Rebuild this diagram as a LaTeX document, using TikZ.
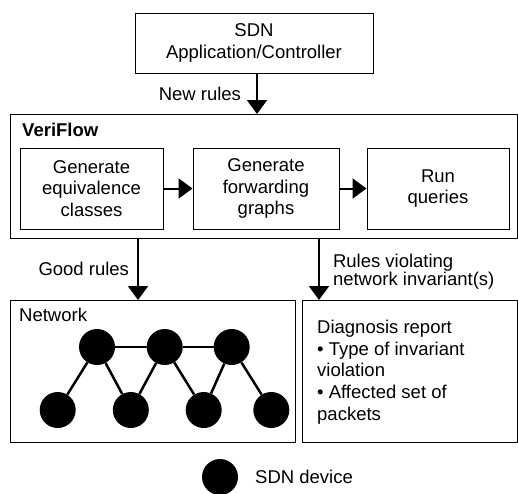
\documentclass[tikz,border=0pt]{standalone}
\usepackage{fontspec}
\setmainfont{Liberation Sans}
\usetikzlibrary{arrows.meta}

\tikzset{
  box/.style={draw, line width=1pt, align=center, inner sep=0pt},
  flow/.style={line width=2pt, -{Triangle[length=14pt,width=20pt]}},
  lbl/.style={inner sep=0pt},
  device/.style={circle, fill=black, minimum size=36pt, inner sep=0pt},
  link/.style={line width=2.5pt},
}

\begin{document}
\fontsize{18.5}{21.7}\selectfont
\begin{tikzpicture}[x=1pt,y=-1pt]
    \useasboundingbox (0,0) rectangle (518,493);

    % controller
    \node[box, minimum width=238pt, minimum height=60pt] (ctrl) at (254,43) {SDN\\Application/Controller};

    % veriflow frame
    \node[box, minimum width=507pt, minimum height=124pt] (vf) at (263.5,176) {};
    \node[lbl, anchor=base west, font=\bfseries] (vftitle) at (22,136) {VeriFlow};

    % stages
    \node[box, minimum width=143pt, minimum height=81pt] (gen1) at (91.5,188.5) {Generate\\equivalence\\classes};
    \node[box, minimum width=146pt, minimum height=81pt] (gen2) at (266,188.5) {Generate\\forwarding\\graphs};
    \node[box, minimum width=142pt, minimum height=81pt] (run) at (438,188.5) {Run\\queries};

    \draw[flow] (gen1) -- (gen2);
    \draw[flow] (gen2) -- (run);

    % outputs
    \node[box, minimum width=285pt, minimum height=142pt] (net) at (152.5,371) {};
    \node[box, minimum width=215.5pt, minimum height=142pt] (diag) at (409.75,371) {};
    \node[lbl, anchor=base west] (nettitle) at (19,321) {Network};
    \node[lbl, anchor=west, align=left] (diagtext) at (317,372)
      {Diagnosis report\\\textbullet\ Type of invariant\\violation\\\textbullet\ Affected set of\\packets};

    % arrows between blocks
    \draw[flow] (257,73) -- node[lbl, left=15pt] (newrules) {New rules} (257,114);
    \draw[flow] (138,238) -- node[lbl, left=8pt] (good) {Good rules} (138,300);
    \draw[flow] (319,238) -- node[lbl, right=13pt, yshift=-3pt, align=left, font=\fontsize{18.5}{17}\selectfont] (bad)
      {Rules violating\\network invariant(s)} (319,300);

    % network devices
    \node[device] (t1) at (97,347) {};
    \node[device] (t2) at (164.7,347) {};
    \node[device] (t3) at (231.7,347) {};
    \node[device] (b1) at (57.7,410) {};
    \node[device] (b2) at (130.8,410) {};
    \node[device] (b3) at (203.7,410) {};
    \node[device] (b4) at (271.3,410) {};

    \draw[link] (t1) -- (t2) -- (t3);
    \draw[link] (t1) -- (b1);
    \draw[link] (t1) -- (b2);
    \draw[link] (t2) -- (b2);
    \draw[link] (t2) -- (b3);
    \draw[link] (t3) -- (b3);
    \draw[link] (t3) -- (b4);

    % legend
    \node[device] (key) at (220,477) {};
    \node[lbl, anchor=west] (keytext) at (255,477) {SDN device};
\end{tikzpicture}
\end{document}
